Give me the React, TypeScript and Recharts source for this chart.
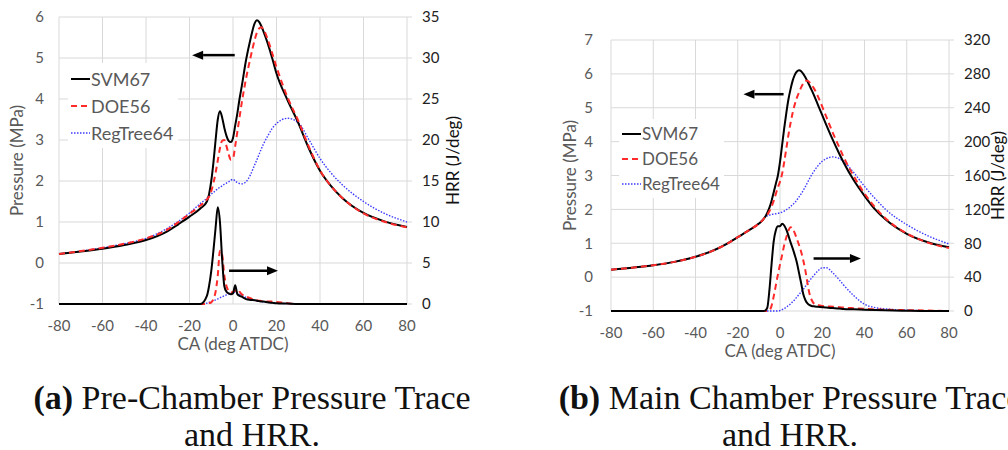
import { CartesianGrid, Legend, Line, LineChart, ReferenceLine, XAxis, YAxis } from 'recharts'

// (a) pre-chamber, crank angle grid (deg ATDC)
const caPre = [-80, -70, -60, -50, -40, -30, -25, -20, -15, -12, -11, -10, -9, -8, -7, -6, -5, -4, -3, -2, -1, 0, 1, 2, 3, 4, 6, 8, 10, 11, 12, 13, 14, 16, 18, 20, 25, 30, 35, 40, 45, 50, 60, 70, 80]
// pressure, MPa
const preSvmP = [0.22, 0.28, 0.35, 0.44, 0.56, 0.78, 0.95, 1.13, 1.33, 1.5, 1.68, 2.0, 2.45, 3.0, 3.5, 3.7, 3.55, 3.3, 3.1, 2.98, 2.95, 3.05, 3.35, 3.65, 4.0, 4.3, 4.95, 5.45, 5.85, 5.92, 5.88, 5.78, 5.65, 5.35, 5.0, 4.62, 3.98, 3.42, 2.78, 2.25, 1.88, 1.6, 1.22, 1.01, 0.88]
const preDoeP = [0.22, 0.29, 0.37, 0.47, 0.6, 0.82, 1.0, 1.2, 1.4, 1.55, 1.62, 1.75, 1.95, 2.2, 2.5, 2.8, 2.98, 3.0, 2.85, 2.65, 2.52, 2.55, 2.85, 3.2, 3.55, 3.9, 4.5, 5.0, 5.45, 5.62, 5.72, 5.75, 5.7, 5.45, 5.12, 4.78, 4.05, 3.47, 2.82, 2.26, 1.88, 1.6, 1.21, 1.0, 0.87]
const preRegP = [0.22, 0.29, 0.37, 0.47, 0.6, 0.85, 1.02, 1.22, 1.45, 1.58, 1.63, 1.68, 1.72, 1.77, 1.81, 1.85, 1.88, 1.92, 1.95, 1.98, 2.02, 2.04, 2.0, 1.96, 1.94, 1.93, 1.98, 2.15, 2.4, 2.52, 2.65, 2.78, 2.9, 3.1, 3.28, 3.4, 3.53, 3.42, 3.0, 2.55, 2.2, 1.92, 1.5, 1.2, 1.0]
// heat release rate, J/deg
const preSvmH = [0, 0, 0, 0, 0, 0, 0, 0, 0, 1.0, 2.2, 4.0, 6.5, 9.3, 11.8, 10.0, 5.5, 2.2, 1.5, 1.3, 1.2, 1.3, 2.3, 1.2, 1.0, 0.9, 0.6, 0.5, 0.45, 0.4, 0.35, 0.3, 0.3, 0.2, 0.15, 0.1, 0.05, 0, 0, 0, 0, 0, 0, 0, 0]
const preDoeH = [0, 0, 0, 0, 0, 0, 0, 0, 0, 0, 0.1, 0.2, 0.6, 1.5, 3.5, 6.5, 6.0, 3.5, 2.2, 1.6, 1.4, 1.5, 1.6, 1.8, 1.5, 1.2, 0.9, 0.7, 0.5, 0.45, 0.4, 0.38, 0.35, 0.3, 0.3, 0.25, 0.1, 0, 0, 0, 0, 0, 0, 0, 0]
const preRegH = [0, 0, 0, 0, 0, 0, 0, 0, 0, 0.1, 0.2, 0.3, 0.4, 0.5, 0.62, 0.75, 0.88, 1.0, 1.12, 1.25, 1.35, 1.45, 1.4, 1.3, 1.18, 1.05, 0.8, 0.6, 0.45, 0.4, 0.35, 0.3, 0.25, 0.2, 0.15, 0.1, 0.05, 0, 0, 0, 0, 0, 0, 0, 0]

// (b) main chamber
const caMain = [-80, -70, -60, -50, -40, -30, -25, -20, -15, -10, -8, -7, -6, -5, -4, -3, -2, -1, 0, 1, 2, 3, 4, 5, 6, 7, 8, 9, 10, 11, 12, 13, 14, 15, 16, 18, 20, 22, 25, 28, 30, 35, 40, 45, 50, 60, 70, 80]
const mainSvmP = [0.22, 0.28, 0.35, 0.45, 0.6, 0.83, 0.99, 1.18, 1.37, 1.58, 1.7, 1.78, 1.9, 2.05, 2.25, 2.5, 2.75, 3.0, 3.4, 3.9, 4.4, 4.85, 5.25, 5.55, 5.8, 5.97, 6.07, 6.11, 6.08, 6.0, 5.9, 5.78, 5.65, 5.52, 5.38, 5.08, 4.78, 4.48, 4.05, 3.65, 3.4, 2.85, 2.4, 2.0, 1.7, 1.28, 1.03, 0.88]
const mainDoeP = [0.22, 0.28, 0.35, 0.45, 0.6, 0.83, 0.99, 1.18, 1.37, 1.58, 1.7, 1.78, 1.84, 1.95, 2.08, 2.25, 2.45, 2.65, 2.82, 3.05, 3.4, 3.8, 4.2, 4.55, 4.85, 5.1, 5.3, 5.45, 5.6, 5.72, 5.8, 5.8, 5.75, 5.67, 5.58, 5.33, 5.03, 4.72, 4.26, 3.84, 3.56, 2.97, 2.47, 2.06, 1.73, 1.29, 1.02, 0.86]
const mainRegP = [0.22, 0.28, 0.35, 0.45, 0.6, 0.83, 0.99, 1.18, 1.37, 1.58, 1.7, 1.78, 1.81, 1.83, 1.85, 1.86, 1.87, 1.88, 1.9, 1.92, 1.95, 1.99, 2.03, 2.08, 2.14, 2.2, 2.28, 2.37, 2.46, 2.56, 2.67, 2.79, 2.91, 3.02, 3.12, 3.29, 3.42, 3.5, 3.55, 3.5, 3.42, 3.08, 2.68, 2.32, 2.0, 1.55, 1.22, 0.98]
const mainSvmH = [0, 0, 0, 0, 0, 0, 0, 0, 0, 0, 0, 0.5, 4, 25, 55, 82, 95, 100, 100, 103, 101, 96, 89, 81, 74, 66, 57, 45, 33, 20, 13, 9, 7, 6, 5.5, 5, 4.5, 4, 3.5, 3, 2.5, 2, 1.5, 1.1, 0.8, 0.3, 0, 0]
const mainDoeH = [0, 0, 0, 0, 0, 0, 0, 0, 0, 0, 0, 0, 0, 1, 6, 17, 30, 43, 55, 66, 78, 87, 95, 99, 97, 92, 85, 78, 70, 60, 48, 33, 20, 13, 9, 7, 6, 5.5, 5, 4.5, 4, 3.2, 2.5, 2, 1.5, 1, 0.5, 0]
const mainRegH = [0, 0, 0, 0, 0, 0, 0, 0, 0, 0, 0, 0, 0, 0, 0, 0, 0, 0.1, 0.5, 1.5, 3, 4.5, 6.5, 8.5, 11, 13.5, 16.5, 19.5, 22.5, 25.5, 29, 32.5, 36, 39, 42, 47.5, 51, 51, 45, 37, 31, 18, 8, 4, 2.5, 1, 0.3, 0]

const seriesNames = ['SVM67', 'DOE56', 'RegTree64']

const STYLES = [
  { stroke: '#000000', strokeWidth: 2, dash: undefined },
  { stroke: '#ff2a2a', strokeWidth: 2, dash: '6 4' },
  { stroke: '#3b3bff', strokeWidth: 1.4, dash: '1.5 1.5' }
]

const FONT = 'Lato, "Open Sans", sans-serif'
const GREY = '#595959'

const Arrow = (props: any) => {
  const { x1, y1, x2, y2 } = props
  const dir = x2 > x1 ? 1 : -1
  const headLen = 11
  return (
    <g>
      <line x1={x1} y1={y1} x2={x2 - dir * headLen} y2={y2} stroke="#000" strokeWidth={2.5} />
      <polygon points={`${x2},${y2} ${x2 - dir * headLen},${y2 - 4.5} ${x2 - dir * headLen},${y2 + 4.5}`} fill="#000" />
    </g>
  )
}

const LegendBox = ({ fontSize, rowHeight }: { fontSize: number; rowHeight: number }) => (
  <div style={{ background: '#fff', padding: '2px 4px 2px 3px', fontFamily: FONT, fontSize, color: GREY }}>
    {seriesNames.map((name, i) => (
      <div key={name} style={{ display: 'flex', alignItems: 'center', height: rowHeight, whiteSpace: 'nowrap' }}>
        <svg width={19} height={6} style={{ marginRight: 1 }}>
          <line
            x1={0}
            y1={3}
            x2={19}
            y2={3}
            stroke={STYLES[i].stroke}
            strokeWidth={STYLES[i].strokeWidth}
            strokeDasharray={STYLES[i].dash}
          />
        </svg>
        <span>{name}</span>
      </div>
    ))}
  </div>
)

interface PanelProps {
  ca: number[]
  pressure: number[][]
  hrr: number[][]
  width: number
  height: number
  marginTop: number
  leftWidth: number
  rightWidth: number
  xHeight: number
  pDomain: [number, number]
  pTicks: number[]
  hDomain: [number, number]
  hTicks: number[]
  leftTickMargin: number
  xTickMargin: number
  pLabelOffset: number
  hLabelOffset: number
  xLabelOffset: number
  legendPos: { left: number; top: number; fontSize: number; rowHeight: number }
  arrows: { from: [number, number]; to: [number, number] }[]
}

const Panel = (p: PanelProps) => {
  const rows = p.ca.map((ca, i) => ({
    ca,
    p0: p.pressure[0][i],
    p1: p.pressure[1][i],
    p2: p.pressure[2][i],
    h0: p.hrr[0][i],
    h1: p.hrr[1][i],
    h2: p.hrr[2][i]
  }))
  return (
    <LineChart width={p.width} height={p.height} data={rows} margin={{ top: p.marginTop, right: 0, bottom: 0, left: 0 }}>
      <CartesianGrid yAxisId="p" stroke="#d9d9d9" strokeWidth={1} />
      <XAxis
        dataKey="ca"
        type="number"
        domain={[-80, 80]}
        ticks={[-80, -60, -40, -20, 0, 20, 40, 60, 80]}
        height={p.xHeight}
        axisLine={false}
        tickLine={false}
        tickMargin={p.xTickMargin}
        tick={{ fill: GREY, fontSize: 15, fontFamily: FONT }}
        label={{ value: 'CA (deg ATDC)', position: 'insideBottom', offset: p.xLabelOffset, fill: GREY, fontSize: 17, fontFamily: FONT }}
      />
      <YAxis
        yAxisId="p"
        orientation="left"
        domain={p.pDomain}
        ticks={p.pTicks}
        width={p.leftWidth}
        axisLine={false}
        tickLine={false}
        tickMargin={p.leftTickMargin}
        tick={{ fill: GREY, fontSize: 15, fontFamily: FONT }}
        label={{
          value: 'Pressure (MPa)',
          angle: -90,
          position: 'insideLeft',
          offset: p.pLabelOffset,
          fill: GREY,
          fontSize: 17,
          fontFamily: FONT,
          style: { textAnchor: 'middle' }
        }}
      />
      <YAxis
        yAxisId="h"
        orientation="right"
        domain={p.hDomain}
        ticks={p.hTicks}
        width={p.rightWidth}
        axisLine={false}
        tickSize={5}
        tickLine={{ stroke: '#d9d9d9' }}
        tickMargin={10}
        tick={{ fill: '#222', fontSize: 15, fontFamily: FONT }}
        label={{
          value: 'HRR (J/deg)',
          angle: -90,
          position: 'insideRight',
          offset: p.hLabelOffset,
          fill: '#111',
          fontSize: 17,
          fontFamily: FONT,
          style: { textAnchor: 'middle' }
        }}
      />
      {[2, 1, 0].map((i) => (
        <Line
          key={`h${i}`}
          yAxisId="h"
          dataKey={`h${i}`}
          type="monotone"
          stroke={STYLES[i].stroke}
          strokeWidth={STYLES[i].strokeWidth}
          strokeDasharray={STYLES[i].dash}
          dot={false}
          isAnimationActive={false}
        />
      ))}
      {[2, 0, 1].map((i) => (
        <Line
          key={`p${i}`}
          yAxisId="p"
          dataKey={`p${i}`}
          name={seriesNames[i]}
          type="monotone"
          stroke={STYLES[i].stroke}
          strokeWidth={STYLES[i].strokeWidth}
          strokeDasharray={STYLES[i].dash}
          dot={false}
          isAnimationActive={false}
        />
      ))}
      {p.arrows.map((a, i) => (
        <ReferenceLine
          key={`arrow${i}`}
          yAxisId="p"
          segment={[
            { x: a.from[0], y: a.from[1] },
            { x: a.to[0], y: a.to[1] }
          ]}
          shape={Arrow}
        />
      ))}
      <Legend
        layout="vertical"
        align="center"
        verticalAlign="middle"
        wrapperStyle={{ left: p.legendPos.left, top: p.legendPos.top, width: 'auto' }}
        content={() => <LegendBox fontSize={p.legendPos.fontSize} rowHeight={p.legendPos.rowHeight} />}
      />
    </LineChart>
  )
}

const captionStyle: React.CSSProperties = {
  position: 'absolute',
  fontFamily: '"Liberation Serif", "Times New Roman", serif',
  fontSize: 34,
  lineHeight: '28px',
  color: '#111',
  textAlign: 'center',
  whiteSpace: 'nowrap',
  width: 520
}

export default function App() {
  return (
    <div style={{ position: 'absolute', left: 0, top: 0, width: 1008, height: 450, background: '#fff', overflow: 'hidden' }}>
      <div style={{ position: 'absolute', left: 0, top: 0 }}>
        <Panel
          ca={caPre}
          pressure={[preSvmP, preDoeP, preRegP]}
          hrr={[preSvmH, preDoeH, preRegH]}
          width={470}
          height={360}
          marginTop={17}
          leftWidth={59}
          rightWidth={63}
          xHeight={56}
          pDomain={[-1, 6]}
          pTicks={[-1, 0, 1, 2, 3, 4, 5, 6]}
          hDomain={[0, 35]}
          hTicks={[0, 5, 10, 15, 20, 25, 30, 35]}
          leftTickMargin={9}
          xTickMargin={10}
          pLabelOffset={17}
          hLabelOffset={17}
          xLabelOffset={10}
          legendPos={{ left: 68, top: 63, fontSize: 18, rowHeight: 27 }}
          arrows={[
            { from: [0.8, 5.07], to: [-18.8, 5.07] },
            { from: [-1.8, -0.19], to: [20.7, -0.19] }
          ]}
        />
      </div>
      <div style={{ position: 'absolute', left: 540, top: 0 }}>
        <Panel
          ca={caMain}
          pressure={[mainSvmP, mainDoeP, mainRegP]}
          hrr={[mainSvmH, mainDoeH, mainRegH]}
          width={468}
          height={368}
          marginTop={40}
          leftWidth={71}
          rightWidth={59}
          xHeight={57}
          pDomain={[-1, 7]}
          pTicks={[-1, 0, 1, 2, 3, 4, 5, 6, 7]}
          hDomain={[0, 320]}
          hTicks={[0, 40, 80, 120, 160, 200, 240, 280, 320]}
          leftTickMargin={12}
          xTickMargin={10}
          pLabelOffset={30}
          hLabelOffset={10}
          xLabelOffset={11}
          legendPos={{ left: 79, top: 119, fontSize: 17, rowHeight: 25 }}
          arrows={[
            { from: [1.7, 5.4], to: [-17.3, 5.4] },
            { from: [15.9, 0.55], to: [38.3, 0.55] }
          ]}
        />
      </div>
      <div style={{ ...captionStyle, left: -8, top: 384 }}>
        <b>(a)</b> Pre-Chamber Pressure Trace
      </div>
      <div style={{ ...captionStyle, left: -8, top: 421 }}>and HRR.</div>
      <div style={{ ...captionStyle, left: 530, top: 384 }}>
        <b>(b)</b> Main Chamber Pressure Trace
      </div>
      <div style={{ ...captionStyle, left: 530, top: 421 }}>and HRR.</div>
    </div>
  )
}
